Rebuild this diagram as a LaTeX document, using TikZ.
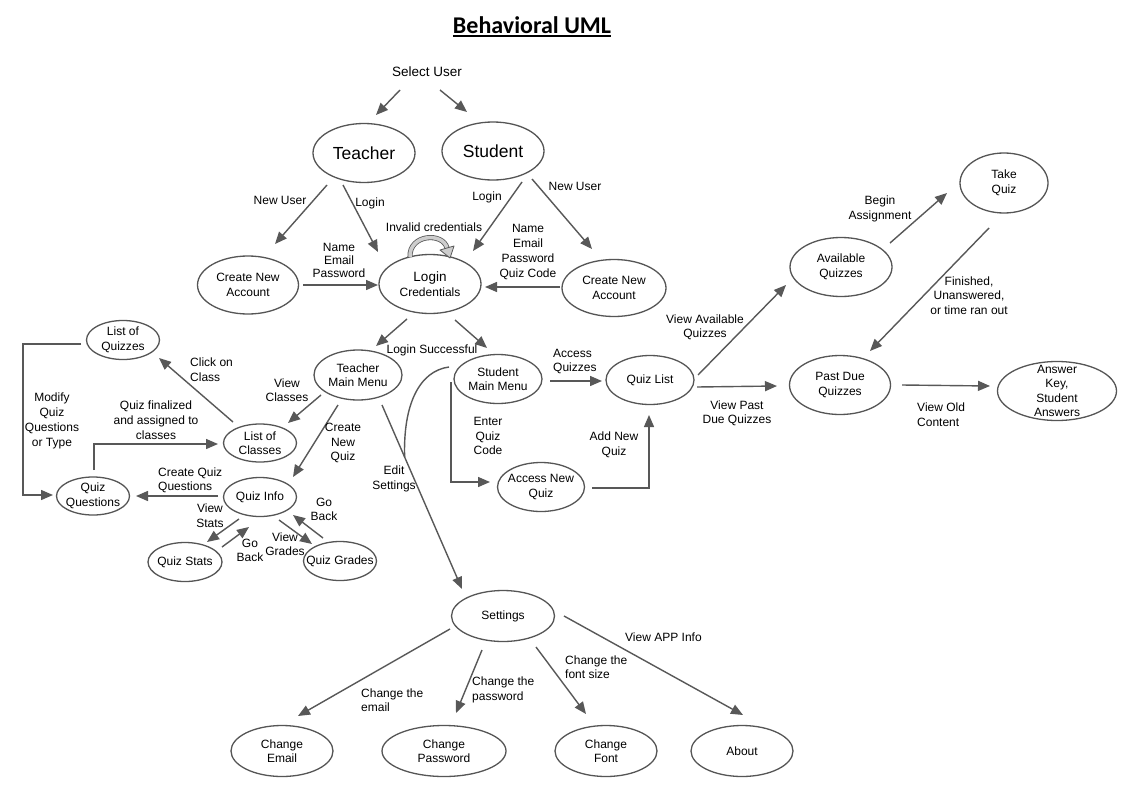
\documentclass[tikz,border=0pt]{standalone}
\usepackage{fontspec}
\setmainfont{Liberation Sans}
\newfontfamily\titlefont{Carlito}
\usetikzlibrary{shapes.geometric,arrows.meta,calc}
\definecolor{lc}{RGB}{88,88,88}
\definecolor{ec}{RGB}{85,85,85}
\definecolor{loopfill}{RGB}{205,205,205}
\tikzset{
  ell/.style={ellipse, draw=ec, line width=1.3pt, inner sep=0pt},
  txt/.style={align=center, inner sep=0pt, font=\fontsize{12}{14.5}\selectfont},
  lbl/.style={align=center, inner sep=0pt, font=\fontsize{12}{14.5}\selectfont},
  lblL/.style={lbl, align=left, anchor=west},
  arr/.style={draw=lc, line width=1.4pt, -{Triangle[length=12pt,width=10pt]}},
  ln/.style={draw=lc, line width=1.4pt},
}
\newcommand{\myell}[6]{\node[ell, minimum width=#4pt, minimum height=#5pt] (#1) at (#2,#3) {};\node[txt] (#1-t) at (#1) {#6};}
\begin{document}
\begin{tikzpicture}[x=1pt,y=-1pt]
\useasboundingbox (0,0) rectangle (1126,800);
\fill[white] (0,0) rectangle (1126,800);

% title
\node[inner sep=0pt] (title) at (532,27) {\titlefont\bfseries\fontsize{24}{28}\selectfont\vtop{\hbox{Behavioral UML}\kern1.5pt\hrule height 2pt}};

\node[lbl, font=\fontsize{13.5}{16}\selectfont] (sel) at (427,72) {Select User};

% nodes
\myell{teacher}{364}{153}{102}{59}{\fontsize{17.5}{20}\selectfont Teacher}
\myell{student}{493}{151}{102}{58}{\fontsize{17.5}{20}\selectfont Student}
\myell{cnaL}{248}{285}{101}{58}{Create New\\Account}
\myell{login}{430}{284}{102}{59}{\fontsize{13.5}{16}\selectfont Login\\Credentials}
\myell{cnaR}{614}{288}{104}{57}{Create New\\Account}
\myell{tmm}{358}{375}{88}{50}{Teacher\\Main Menu}
\myell{smm}{498}{379}{88}{49}{Student\\Main Menu}
\myell{qlist}{650}{380}{88}{49}{Quiz List}
\myell{anq}{541}{487}{87}{49}{Access New\\Quiz}
\myell{loq}{123}{340}{73}{39}{List of\\Quizzes}
\myell{loc}{260}{443}{73}{38}{List of\\Classes}
\myell{qq}{93}{496}{73}{38}{Quiz\\Questions}
\myell{qi}{260}{497}{73}{39}{Quiz Info}
\myell{qs}{185}{562}{74}{39}{Quiz Stats}
\myell{qg}{340}{561}{73}{39}{Quiz Grades}
\myell{avail}{841}{267}{102}{59}{Available\\Quizzes}
\myell{take}{1004}{183}{88}{60}{Take\\Quiz}
\myell{pastdue}{840}{385}{101}{59}{Past Due\\Quizzes}
\myell{anskey}{1057}{391}{119}{59}{Answer\\Key,\\Student\\Answers}
\myell{settings}{503}{616}{103}{51}{Settings}
\myell{chEmail}{282}{751}{102}{51}{Change\\Email}
\myell{chPass}{444}{751}{124}{51}{Change\\Password}
\myell{chFont}{606}{751}{102}{51}{Change\\Font}
\myell{about}{742}{751}{102}{51}{About}

% connectors
\draw[arr] ($(sel)+(-27,18)$) -- ($(teacher)+(12,-38)$);
\draw[arr] ($(sel)+(13,18)$) -- ($(student)+(-26,-39)$);
\draw[arr] ($(teacher)+(-37,32)$) -- ($(cnaL)+(27,-41)$);
\draw[arr] ($(teacher)+(-21,32)$) -- ($(login)+(-52,-32)$);
\draw[arr] ($(student)+(29,31)$) -- ($(login)+(43,-33)$);
\draw[arr] ($(student)+(39,28)$) -- ($(cnaR)+(-22,-39)$);
\draw[arr] ($(cnaL)+(55,0)$) -- ($(login)+(-52,1)$);
\draw[arr] ($(cnaR)+(-54,-1)$) -- ($(login)+(55,3)$);
\draw[arr] ($(login)+(-23,35)$) -- ($(tmm)+(18,-29)$);
\draw[arr] ($(login)+(25,36)$) -- ($(smm)+(-11,-31)$);
\draw[arr] ($(tmm)+(-37,20)$) -- ($(loc)+(28,-20)$);
\draw[arr] ($(tmm)+(-20,30)$) -- ($(qi)+(33,-20)$);
\draw[arr] ($(tmm)+(24,30)$) -- coordinate[pos=0.283] (join) ($(settings)+(-41,-27)$);
\draw[ln] ($(smm)+(-49,-12)$) .. controls (419,371) and (403,405) .. (join);
\draw[arr] ($(smm)+(-47,3)$) |- ($(anq)+(-51,-5)$);
\draw[arr] ($(smm)+(52,2)$) -- ($(qlist)+(-48,1)$);
\draw[arr] ($(anq)+(51,1)$) -| ($(qlist)+(-1,35)$);
\draw[arr] ($(qlist)+(48,-5)$) -- ($(avail)+(-55,18)$);
\draw[arr] ($(qlist)+(47,7)$) -- ($(pastdue)+(-63,1)$);
\draw[arr] ($(avail)+(49,-24)$) -- ($(take)+(-57,10)$);
\draw[arr] ($(take)+(-15,45)$) -- ($(pastdue)+(30,-34)$);
\draw[arr] ($(pastdue)+(62,0)$) -- ($(anskey)+(-67,-5)$);
\draw[arr] ($(loc)+(-27,-21)$) -- ($(loq)+(36,18)$);
\draw[arr] ($(qq)+(1,-26)$) |- ($(loc)+(-42,1)$);
\draw[arr] ($(loq)+(-42,4)$) -- ($(loq)+(-100,4)$) |- ($(qq)+(-40,-1)$);
\draw[arr] ($(qi)+(-42,-1)$) -- ($(qq)+(43,0)$);
\draw[arr] ($(qi)+(-21,22)$) -- ($(qs)+(22,-20)$);
\draw[arr] ($(qs)+(37,-15)$) -- ($(qi)+(-11,30)$);
\draw[arr] ($(qi)+(19,23)$) -- ($(qg)+(-28,-17)$);
\draw[arr] ($(qg)+(-17,-23)$) -- ($(qi)+(33,18)$);
\draw[arr] ($(settings)+(-53,13)$) -- ($(chEmail)+(16,-35)$);
\draw[arr] ($(settings)+(-21,34)$) -- ($(chPass)+(12,-38)$);
\draw[arr] ($(settings)+(33,31)$) -- ($(chFont)+(-20,-37)$);
\draw[arr] ($(settings)+(61,0)$) -- ($(about)+(1,-36)$);

% self loop on login
\draw[draw=gray!70!black, double=loopfill, double distance=3.5pt, line width=0.8pt] ($(login)+(-20,-27)$) .. controls ($(login)+(-21,-50)$) and ($(login)+(13,-52)$) .. ($(login)+(17,-36)$);
\filldraw[draw=gray!70!black, fill=loopfill, line width=0.8pt, line join=round] ($(login)+(10,-34)$) -- ($(login)+(24,-38)$) -- ($(login)+(20,-26)$) -- cycle;

% labels
\node[lbl] (l1) at (280,200) {New User};
\node[lbl] (l2) at (370,203) {Login};
\node[lbl] (l3) at (487,197) {Login};
\node[lbl] (l4) at (575,186) {New User};
\node[lbl] (l5) at (434,227) {Invalid credentials};
\node[lbl, font=\fontsize{12}{13}\selectfont] (l6) at (339,260) {Name\\Email\\Password};
\node[lbl, font=\fontsize{12}{15}\selectfont] (l7) at (528,252) {Name\\Email\\Password\\Quiz Code};
\node[lbl] (l8) at (432,350) {Login Successful};
\node[lblL] (l9) at (190,369.5) {Click on\\Class};
\node[lbl] (l10) at (287,390) {View\\Classes};
\node[lbl, font=\fontsize{12}{15}\selectfont] (l11) at (52,420.5) {Modify\\Quiz\\Questions\\or Type};
\node[lbl, font=\fontsize{12}{15}\selectfont] (l12) at (156,420) {Quiz finalized\\and assigned to\\classes};
\node[lbl] (l13) at (343,443) {Create\\New\\Quiz};
\node[lbl] (l14) at (394,479) {Edit\\Settings};
\node[lblL] (l15) at (158,480.5) {Create Quiz\\Questions};
\node[lbl] (l16) at (210,515.5) {View\\Stats};
\node[lbl] (l17) at (250,550.5) {Go\\Back};
\node[lbl] (l18) at (285,544) {View\\Grades};
\node[lbl] (l19) at (324,509.5) {Go\\Back};
\node[lblL] (l20) at (553,361.5) {Access\\Quizzes};
\node[lbl] (l21) at (488,436) {Enter\\Quiz\\Code};
\node[lbl] (l22) at (614,445) {Add New\\Quiz};
\node[lbl] (l23) at (705,327.5) {View Available\\Quizzes};
\node[lbl] (l24) at (737,413.5) {View Past\\Due Quizzes};
\node[lbl] (l25) at (880,209) {Begin\\Assignment};
\node[lbl] (l26) at (969,295.5) {Finished,\\Unanswered,\\or time ran out};
\node[lblL] (l27) at (917,414.5) {View Old\\Content};
\node[lblL] (l28) at (361,700) {Change the\\email};
\node[lblL] (l29) at (472,690) {Change the\\password};
\node[lblL] (l30) at (565,667) {Change the\\font size};
\node[lblL] (l31) at (625,637) {View APP Info};
\end{tikzpicture}
\end{document}
